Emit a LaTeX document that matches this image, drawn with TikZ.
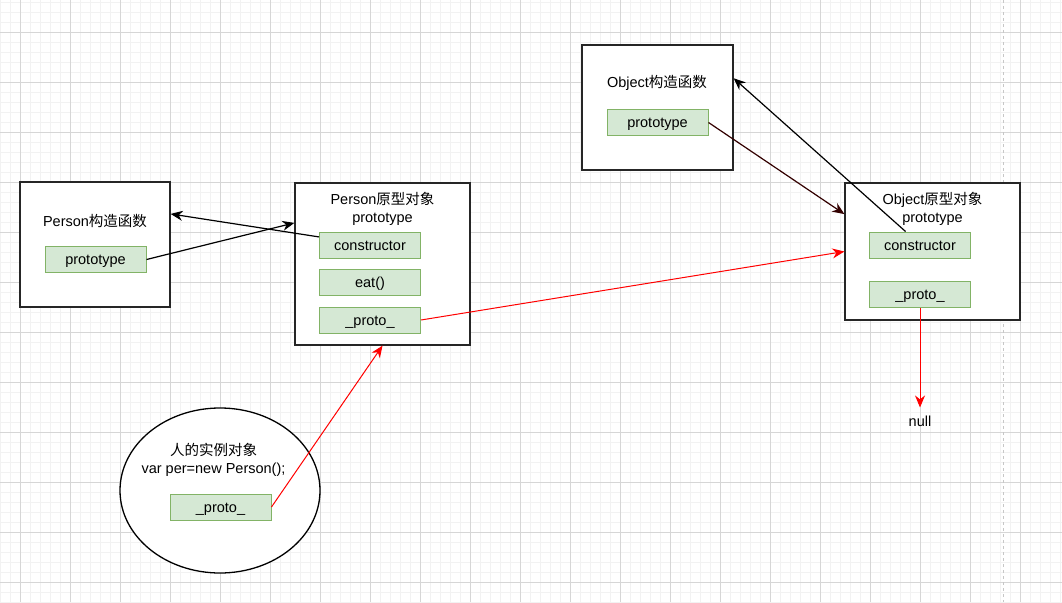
\documentclass[tikz,border=0pt]{standalone}
\usepackage{fontspec}
\setmainfont{Liberation Sans}
\newfontfamily\cjk{Noto Sans CJK SC}
\usepackage{tikz}
\usetikzlibrary{arrows.meta}
\usetikzlibrary{shapes.geometric}

\definecolor{fieldfill}{HTML}{D5E8D4}
\definecolor{fieldline}{HTML}{82B366}
\definecolor{darkmaroon}{HTML}{330000}
\definecolor{gridminor}{HTML}{F2F2F2}
\definecolor{gridmajor}{HTML}{D6D6D6}

\begin{document}
\begin{tikzpicture}[x=1pt,y=-1pt,
	every node/.style={font=\fontsize{14.5}{18}\selectfont},
	bigbox/.style={draw=black!85, line width=1.3pt, fill=white},
	field/.style={draw=fieldline, fill=fieldfill, line width=1pt, minimum width=101pt, minimum height=26pt, inner sep=0pt, text height=12pt, text depth=2pt},
	link/.style={line width=1.2pt, -{Stealth[length=12pt,width=10pt]}},
	redlink/.style={link, red, line width=1pt}]
		
		\useasboundingbox (0,0) rectangle (1062,602);
		\fill[white] (0,0) rectangle (1062,602);
		
		% grid
		\foreach \gx in {0,10,...,1060} \draw[gridminor, line width=0.7pt] (\gx,0) -- (\gx,602);
		\foreach \gy in {2,12,...,602} \draw[gridminor, line width=0.7pt] (0,\gy) -- (1062,\gy);
		\foreach \gx in {20,70,...,1020} \draw[gridmajor, line width=0.7pt] (\gx,0) -- (\gx,602);
		\foreach \gy in {32,82,...,582} \draw[gridmajor, line width=0.7pt] (0,\gy) -- (1062,\gy);
		\draw[black!22, line width=1pt, dash pattern=on 3pt off 3pt] (1003,0) -- (1003,602);
		
		% Person
		\node[bigbox, minimum width=150, minimum height=125] (pc) at (95,244.5) {};
		\node (pctitle) at (95,221) {Person{\cjk 构造函数}};
		\node[field] (pcproto) at (95.5,259.5) {prototype};
		
		\node[bigbox, minimum width=175, minimum height=162] (po) at (382.5,264) {};
		\node[align=center] (potitle) at (382.5,209) {Person{\cjk 原型对象}\\prototype};
		\node[field] (pocons) at (370,245) {constructor};
		\node[field] (poeat) at (370,282.5) {eat()};
		\node[field] (poproto) at (370,320) {\_proto\_};
		
		% Object
		\node[bigbox, minimum width=151, minimum height=125] (oc) at (657.5,107.5) {};
		\node (octitle) at (657,83) {Object{\cjk 构造函数}};
		\node[field] (ocproto) at (657.5,122.5) {prototype};
		
		\node[bigbox, minimum width=175, minimum height=137] (oo) at (932.5,251.5) {};
		\node[align=center] (ootitle) at (932.5,208.5) {Object{\cjk 原型对象}\\prototype};
		\node[field] (oocons) at (920,245) {constructor};
		\node[field] (ooproto) at (920,294.5) {\_proto\_};
		\node[inner sep=8pt] (nullval) at (920,421) {null};
		
		% instance
		\node[bigbox, ellipse, draw=black, minimum width=200, minimum height=165] (per) at (220,490.5) {};
		\node[align=center] (pertitle) at (213.5,460) {{\cjk 人的实例对象}\\var per=new Person();};
		\node[field] (perproto) at (220.5,507) {\_proto\_};
		
		% links
		\draw[link] (pcproto.east) -- (po.155);
		\draw[link] (pocons.171) -- (pc.22);
		\draw[link, darkmaroon] (ocproto.east) -- (oo.157);
		\draw[link] (oocons.137) -- (oc.21);
		\draw[redlink] (poproto.east) -- (oo.west);
		\draw[redlink] (ooproto.south) -- (nullval.north);
		\draw[redlink] (perproto.east) -- (po.south);
		
	\end{tikzpicture}
\end{document}
